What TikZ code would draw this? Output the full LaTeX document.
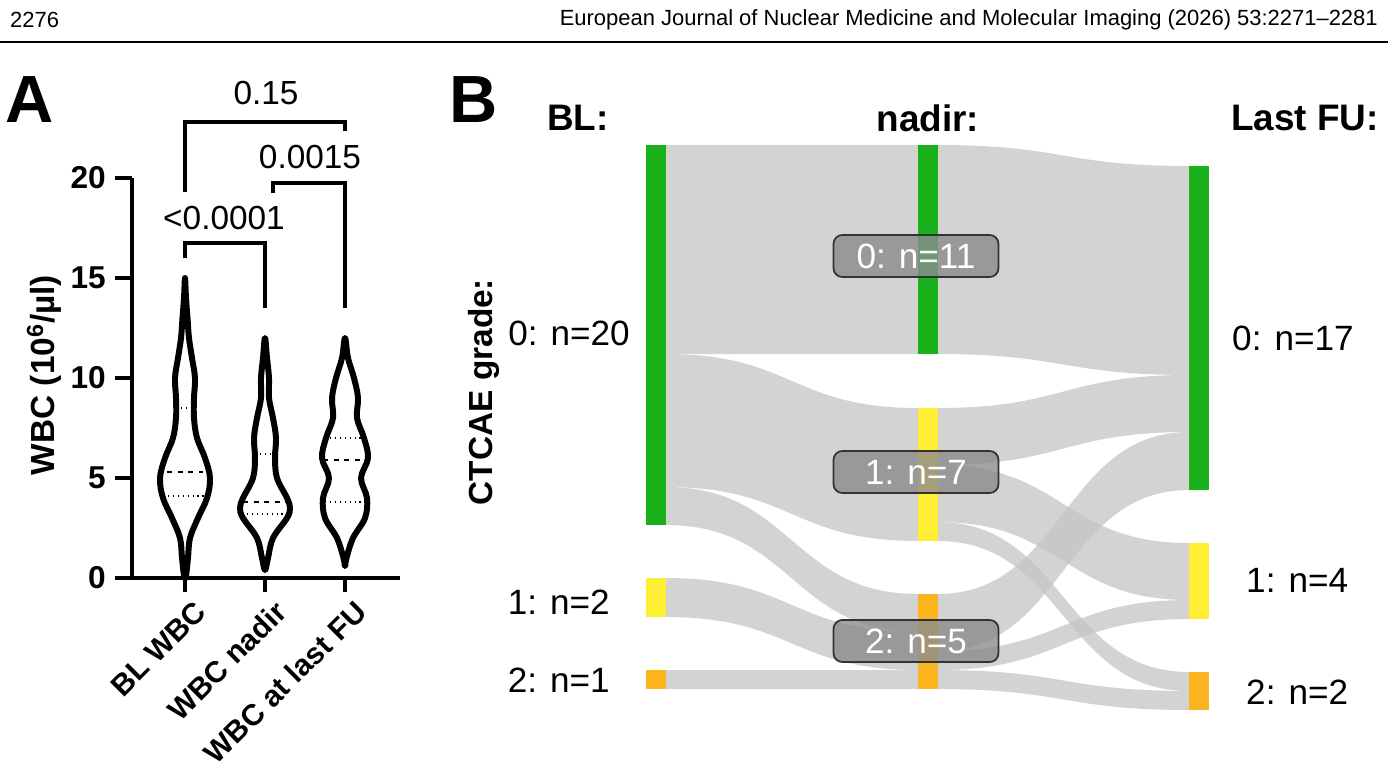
\documentclass[tikz,border=0pt]{standalone}
\usepackage{fontspec}
\setmainfont{Liberation Sans}
\definecolor{gradezero}{HTML}{19B019}
\definecolor{gradeone}{HTML}{FFEE33}
\definecolor{gradetwo}{HTML}{FBB520}
\definecolor{flowgray}{HTML}{C4C4C4}
\tikzset{
  violin/.style={line width=3.4pt,line join=round},
  axis/.style={line width=2.2pt},
  bracket/.style={line width=2.2pt},
  bar/.style={draw=none},
  flow/.style={fill=flowgray,fill opacity=0.75,draw=none},
  countbox/.style={draw=black!80,fill=black!45,fill opacity=0.8,text opacity=1,
    rounded corners=5pt,line width=1pt,minimum width=3.3cm,minimum height=0.84cm,
    text=white,font=\fontsize{20}{22}\selectfont},
  count/.style={font=\fontsize{20}{23}\selectfont},
  colhead/.style={font=\fontsize{21}{24}\selectfont\bfseries},
  ticklab/.style={font=\fontsize{18}{21}\selectfont\bfseries},
  pval/.style={font=\fontsize{19}{22}\selectfont}
}
% band between two bars
\newcommand{\flowband}[6]{%
  \pgfmathsetmacro{\xm}{(#1+#4)/2}%
  \fill[flow] (#1,#2) .. controls (\xm,#2) and (\xm,#5) .. (#4,#5)
    -- (#4,#6) .. controls (\xm,#6) and (\xm,#3) .. (#1,#3) -- cycle;}
\begin{document}
\begin{tikzpicture}[x=0.02cm,y=-0.02cm]
  \useasboundingbox (0,0) rectangle (1388,782);
  % header
  \node[anchor=west,font=\fontsize{12.5}{14}\selectfont] (page) at (4,20) {2276};
  \node[anchor=east,font=\fontsize{12.5}{14}\selectfont] (journal) at (1384,20)
    {European Journal of Nuclear Medicine and Molecular Imaging (2026) 53:2271--2281};
  \draw[line width=1.2pt] (0,42) -- (1388,42);
  % panel letters
  \node[font=\fontsize{38}{40}\selectfont\bfseries] (lettera) at (30,100) {A};
  \node[font=\fontsize{38}{40}\selectfont\bfseries] (letterb) at (474,100) {B};
  % panel A axes
  \draw[axis] (132,178) -- (132,578) -- (400,578);
  \foreach \v in {0,5,10,15,20}{
    \draw[axis] (115,578-20*\v) -- (132,578-20*\v);
    \node[ticklab,anchor=east] (tick\v) at (112,578-20*\v) {\v};
  }
  \foreach \cx/\name/\lab in {185/bl/BL WBC,265/nadir/WBC nadir,345/fu/WBC at last FU}{
    \draw[axis] (\cx,578) -- (\cx,592);
    \node[ticklab,font=\fontsize{17}{20}\selectfont\bfseries,anchor=north east,rotate=45,inner sep=1pt] (x\name) at (\cx+8,596) {\lab};
  }
  \node[ticklab,font=\fontsize{19}{22}\selectfont\bfseries,rotate=90] (ylabel) at (44,375) {WBC (10\textsuperscript{6}/µl)};
  % violins
  \begin{scope}[shift={(185,0)}]
    \draw[violin] plot[smooth cycle,tension=0.6] coordinates {(0,278) (1,298) (2.5,318) (4,338) (7,358)
      (10,378) (9,398) (9,418) (12,438) (20,458) (25,478) (22,498) (13,518) (5,538) (3,558) (1,576)
      (0,578) (-1,576) (-3,558) (-5,538) (-13,518) (-22,498) (-25,478) (-20,458) (-12,438) (-9,418)
      (-9,398) (-10,378) (-7,358) (-4,338) (-2.5,318) (-1,298)};
    \draw[dashed,line width=0.8pt] (-18,472) -- (18,472);
    \draw[dotted,line width=0.8pt] (-22,496) -- (22,496);
    \draw[dotted,line width=0.8pt] (-9,408) -- (9,408);
  \end{scope}
  \begin{scope}[shift={(265,0)}]
    \draw[violin] plot[smooth cycle,tension=0.6] coordinates {(0,338) (2,358) (4,378) (4,398) (8,418)
      (11,438) (10,458) (12,478) (22,498) (25,508) (22,518) (8,538) (3,558) (0,570)
      (-3,558) (-8,538) (-22,518) (-25,508) (-22,498) (-12,478) (-10,458) (-11,438) (-8,418)
      (-4,398) (-4,378) (-2,358)};
    \draw[dashed,line width=0.8pt] (-22,502) -- (22,502);
    \draw[dotted,line width=0.8pt] (-18,514) -- (18,514);
    \draw[dotted,line width=0.8pt] (-10,454) -- (10,454);
  \end{scope}
  \begin{scope}[shift={(345,0)}]
    \draw[violin] plot[smooth cycle,tension=0.6] coordinates {(0,338) (3,358) (9,378) (13,398) (12,418)
      (19,438) (23,458) (16,478) (22,498) (20,518) (8,538) (1.5,558) (0,566)
      (-1.5,558) (-8,538) (-20,518) (-22,498) (-16,478) (-23,458) (-19,438) (-12,418)
      (-13,398) (-9,378) (-3,358)};
    \draw[dashed,line width=0.8pt] (-22,460) -- (22,460);
    \draw[dotted,line width=0.8pt] (-20,438) -- (20,438);
    \draw[dotted,line width=0.8pt] (-20,502) -- (20,502);
  \end{scope}
  % brackets
  \draw[bracket] (185,258) -- (185,243) -- (265,243) -- (265,308);
  \node[pval] (p1) at (224,218) {<0.0001};
  \draw[bracket] (273,193) -- (273,183) -- (345,183) -- (345,308);
  \node[pval] (p2) at (310,157) {0.0015};
  \draw[bracket] (185,192) -- (185,122) -- (345,122) -- (345,131);
  \node[pval] (p3) at (266,93) {0.15};
  % panel B headers
  \node[colhead] (hbl) at (578,118) {BL:};
  \node[colhead] (hnadir) at (928,118) {nadir:};
  \node[colhead] (hfu) at (1305,118) {Last FU:};
  \node[colhead,font=\fontsize{19}{22}\selectfont\bfseries,rotate=90] (grade) at (484,392) {CTCAE grade:};
  % flows BL -> nadir
  \flowband{666}{145}{354}{918}{145}{354}
  \flowband{666}{354}{487}{918}{408}{541}
  \flowband{666}{487}{525}{918}{594}{632}
  \flowband{666}{578}{617}{918}{632}{670}
  \flowband{666}{670}{689}{918}{670}{689}
  % flows nadir -> last FU
  \flowband{938}{145}{354}{1189}{166}{375}
  \flowband{938}{408}{465}{1189}{375}{432}
  \flowband{938}{465}{522}{1189}{543}{600}
  \flowband{938}{522}{541}{1189}{672}{691}
  \flowband{938}{594}{651}{1189}{432}{490}
  \flowband{938}{651}{670}{1189}{600}{619}
  \flowband{938}{670}{689}{1189}{691}{710}
  % bars
  \fill[gradezero] (646,145) rectangle (666,525);
  \fill[gradeone] (646,578) rectangle (666,617);
  \fill[gradetwo] (646,670) rectangle (666,689);
  \fill[gradezero] (918,145) rectangle (938,354);
  \fill[gradeone] (918,408) rectangle (938,541);
  \fill[gradetwo] (918,594) rectangle (938,689);
  \fill[gradezero] (1189,166) rectangle (1209,490);
  \fill[gradeone] (1189,543) rectangle (1209,619);
  \fill[gradetwo] (1189,672) rectangle (1209,710);
  % counts
  \node[count,anchor=east] (bl0) at (636,333) {0: n=20};
  \node[count,anchor=east] (bl1) at (616,602) {1: n=2};
  \node[count,anchor=east] (bl2) at (616,680) {2: n=1};
  \node[countbox] (nadir0) at (916,256) {0: n=11};
  \node[countbox] (nadir1) at (916,472) {1: n=7};
  \node[countbox] (nadir2) at (916,641) {2: n=5};
  \node[count,anchor=west] (fu0) at (1226,338) {0: n=17};
  \node[count,anchor=west] (fu1) at (1240,580) {1: n=4};
  \node[count,anchor=west] (fu2) at (1240,692) {2: n=2};
\end{tikzpicture}
\end{document}
